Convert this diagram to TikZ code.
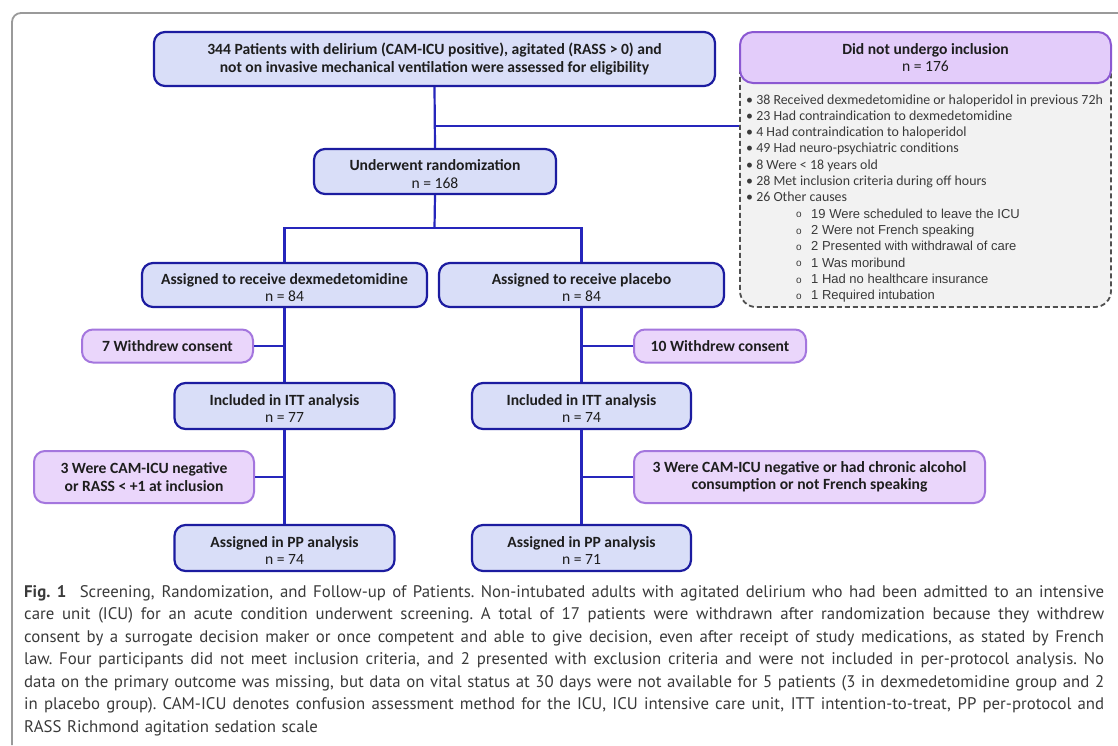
\documentclass[tikz,border=0pt]{standalone}
\usepackage{fontspec}
\setmainfont{Carlito}
\newfontfamily\arialf{Liberation Sans}
\newfontfamily\capf{PT Sans}
\definecolor{navy}{HTML}{1C1CA0}
\definecolor{lineblue}{HTML}{2626BC}
\definecolor{boxblue}{HTML}{D9DEF8}
\definecolor{purpfill}{HTML}{EAD6FB}
\definecolor{purpborder}{HTML}{A476DE}
\definecolor{hdrfill}{HTML}{E3CCFA}
\definecolor{hdrborder}{HTML}{8B58D2}
\definecolor{dashgray}{HTML}{505050}
\definecolor{panelgray}{HTML}{F2F2F2}
\definecolor{framegray}{HTML}{9A9A9A}
\definecolor{txt}{HTML}{1E1E1E}
\definecolor{captxt}{HTML}{3A3A3A}
\newcommand\capline[1]{\hbox to 1080pt{\spaceskip=0.24em plus 1fil minus 0.08em\xspaceskip=\spaceskip #1}}
\newcommand\lowtxt[1]{\raisebox{-4.5pt}[\height][\depth]{\begin{tabular}{@{}c@{}}#1\end{tabular}}}
\begin{document}
\begin{tikzpicture}[x=1pt,y=-1pt,
  bbox/.style={draw=navy, fill=boxblue, line width=2.2pt, rounded corners=11pt,
    inner sep=0pt, align=center, text=txt, font=\fontsize{15.6}{17.5}\selectfont},
  pbox/.style={draw=purpborder, fill=purpfill, line width=2pt, rounded corners=11pt,
    inner sep=0pt, align=center, text=txt, font=\fontsize{15.6}{17.5}\selectfont},
  conn/.style={draw=lineblue, line width=2.2pt},
  item/.style={anchor=base west, inner sep=0pt, text=captxt, font=\fontsize{13.9}{15}\selectfont},
  subitem/.style={anchor=base west, inner sep=0pt, text=captxt, font=\arialf\fontsize{13}{15}\selectfont}]
\useasboundingbox (0,0) rectangle (1118,745);
\fill[white] (0,0) rectangle (1118,745);
% outer frame
\draw[framegray, line width=1.8pt, rounded corners=9pt] (12,745) -- (12,13) -- (1118,13);

% excluded panel
\node[draw=dashgray, dashed, dash pattern=on 5pt off 3pt, fill=panelgray, line width=1.8pt,
  rounded corners=16pt, minimum width=371, minimum height=250, inner sep=0pt] (reasons) at (925.5,182) {};
\node[draw=hdrborder, fill=hdrfill, line width=2pt, rounded corners=13pt, inner sep=0pt,
  minimum width=371, minimum height=51, align=center, text=txt,
  font=\fontsize{15.6}{17.5}\selectfont] (excl) at (925.5,57.5)
  {\bfseries Did not undergo inclusion\\n = 176};

\foreach \t [count=\i] in {%
  • 38 Received dexmedetomidine or haloperidol in previous 72h,
  • 23 Had contraindication to dexmedetomidine,
  • 4 Had contraindication to haloperidol,
  • 49 Had neuro-psychiatric conditions,
  • 8 Were < 18 years old,
  • 28 Met inclusion criteria during off hours,
  • 26 Other causes}
  \node[item] (r\i) at (746,{104+(\i-1)*16.33}) {\t};
\foreach \t [count=\i from 8] in {%
  19 Were scheduled to leave the ICU,
  2 Were not French speaking,
  2 Presented with withdrawal of care,
  1 Was moribund,
  1 Had no healthcare insurance,
  1 Required intubation}
  {\node[subitem, font=\arialf\fontsize{10}{10}\selectfont] (o\i) at (796,{103.5+(\i-1)*16.33}) {o};
   \node[subitem] (r\i) at (811,{104+(\i-1)*16.33}) {\t};}

% main boxes
\node[bbox, minimum width=561, minimum height=54, font=\fontsize{15.6}{18}\selectfont\bfseries] (top) at (434.5,59)
  {344 Patients with delirium (CAM-ICU positive), agitated (RASS > 0) and\\not on invasive mechanical ventilation were assessed for eligibility};
\node[bbox, minimum width=242, minimum height=45] (rand) at (435,171.5)
  {\lowtxt{\textbf{Underwent randomization}\\n = 168}};
\node[bbox, minimum width=285, minimum height=44] (dex) at (284.5,285)
  {\lowtxt{\textbf{Assigned to receive dexmedetomidine}\\n = 84}};
\node[bbox, minimum width=285, minimum height=44] (plac) at (581.5,285)
  {\lowtxt{\textbf{Assigned to receive placebo}\\n = 84}};
\node[pbox, minimum width=171, minimum height=33] (w7) at (167.5,346)
  {\textbf{7 Withdrew consent}};
\node[pbox, minimum width=172, minimum height=33] (w10) at (720,346)
  {\textbf{10 Withdrew consent}};
\node[bbox, minimum width=220, minimum height=46] (ittd) at (284.5,406)
  {\lowtxt{\textbf{Included in ITT analysis}\\n = 77}};
\node[bbox, minimum width=219, minimum height=46] (ittp) at (581.5,406)
  {\lowtxt{\textbf{Included in ITT analysis}\\n = 74}};
\node[pbox, minimum width=220, minimum height=52] (xd) at (144,477)
  {\textbf{3 Were CAM-ICU negative}\\\textbf{or RASS < +1 at inclusion}};
\node[pbox, minimum width=351, minimum height=52] (xp) at (809.5,477)
  {\textbf{3 Were CAM-ICU negative or had chronic alcohol}\\\textbf{consumption or not French speaking}};
\node[bbox, minimum width=220, minimum height=46] (ppd) at (284.5,548)
  {\lowtxt{\textbf{Assigned in PP analysis}\\n = 74}};
\node[bbox, minimum width=219, minimum height=46] (ppp) at (581.5,548)
  {\lowtxt{\textbf{Assigned in PP analysis}\\n = 71}};

% connectors
\coordinate (j1) at (434.5,126);
\coordinate (j2) at (434.5,228);
\draw[conn] (top.south) -- (rand.north);
\draw[conn] (j1) -- (j1 -| reasons.west);
\draw[conn] (rand.south) -- (j2);
\draw[conn] (dex.north) |- (j2) -| (plac.north);
\draw[conn] (dex.south) -- (ittd.north);
\draw[conn] (ittd.south) -- (ppd.north);
\draw[conn] (plac.south) -- (ittp.north);
\draw[conn] (ittp.south) -- (ppp.north);
\draw[conn] (w7.east) -- (w7.east -| dex.south);
\draw[conn] (w10.west) -- (w10.west -| plac.south);
\draw[conn] (xd.east) -- (xd.east -| ittd.south);
\draw[conn] (xp.west) -- (xp.west -| ittp.south);

% caption
\node[anchor=north west, inner sep=0pt, text width=1080pt, align=left, text=captxt,
  font=\capf\fontsize{16.8}{22.5}\selectfont] (cap) at (24,585) {%
\capline{\textbf{Fig. 1}\hskip 0.8em Screening, Randomization, and Follow-up of Patients. Non-intubated adults with agitated delirium who had been admitted to an intensive}
\capline{care unit (ICU) for an acute condition underwent screening. A total of 17 patients were withdrawn after randomization because they withdrew}
\capline{consent by a surrogate decision maker or once competent and able to give decision, even after receipt of study medications, as stated by French}
\capline{law. Four participants did not meet inclusion criteria, and 2 presented with exclusion criteria and were not included in per-protocol analysis. No}
\capline{data on the primary outcome was missing, but data on vital status at 30 days were not available for 5 patients (3 in dexmedetomidine group and 2}
\capline{in placebo group). CAM-ICU denotes confusion assessment method for the ICU, ICU intensive care unit, ITT intention-to-treat, PP per-protocol and}
\hbox{RASS Richmond agitation sedation scale}};
\end{tikzpicture}
\end{document}
